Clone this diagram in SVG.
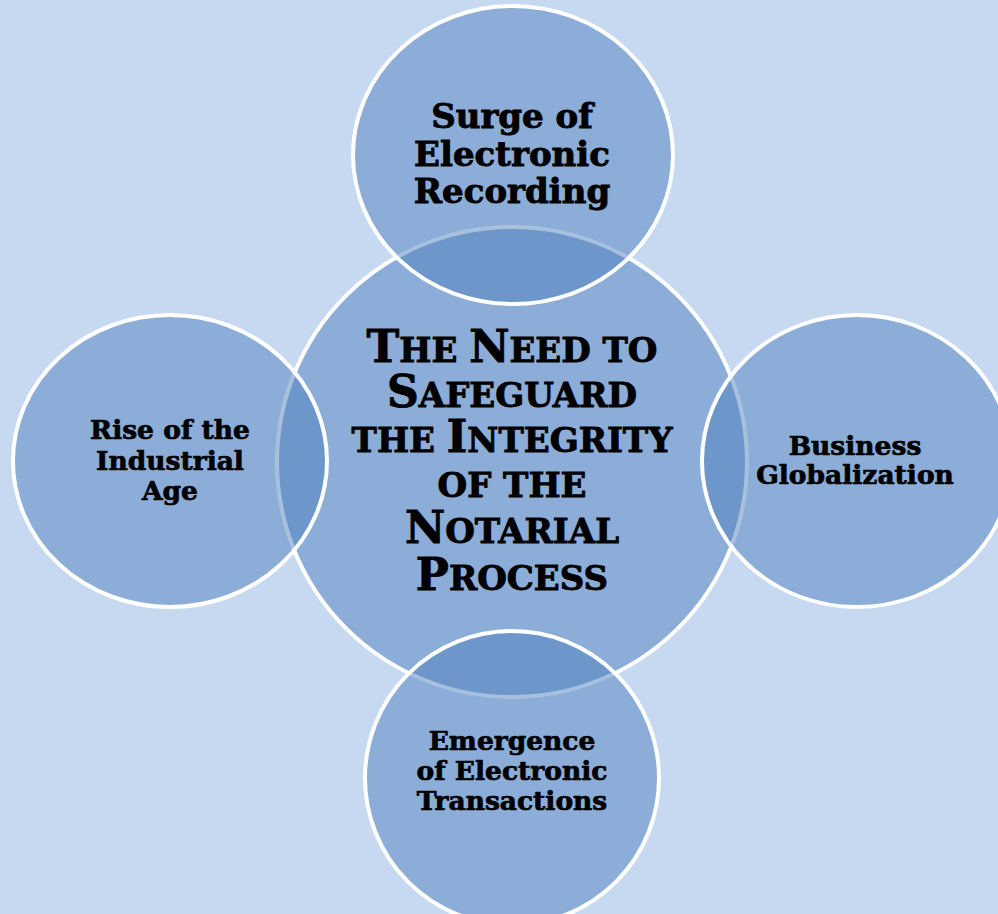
<svg xmlns="http://www.w3.org/2000/svg" width="998" height="914" viewBox="0 0 998 914">
<style>
.bub{fill:#4f81bd;fill-opacity:0.5;stroke:#ffffff;stroke-width:4}
.t{font-family:"DejaVu Serif","Liberation Serif",serif;font-weight:bold;fill:#000000;stroke:#000000;stroke-width:0.9;text-anchor:middle}
.big{font-size:34px}
.sm{font-size:26.5px;stroke-width:0.7}
.c{font-size:44px}
.s{font-size:34px}
</style>
<rect x="0" y="0" width="998" height="914" fill="#c6d9f0"/>
<g id="center">
<circle class="bub" cx="512" cy="462" r="235"/>
<text class="t c" x="512" y="362"><tspan>T</tspan><tspan class="s">HE </tspan><tspan>N</tspan><tspan class="s">EED TO</tspan></text>
<text class="t c" x="512" y="407"><tspan>S</tspan><tspan class="s">AFEGUARD</tspan></text>
<text class="t c" x="512" y="452"><tspan class="s">THE </tspan><tspan>I</tspan><tspan class="s">NTEGRITY</tspan></text>
<text class="t s" x="512" y="497">OF THE</text>
<text class="t c" x="512" y="543"><tspan>N</tspan><tspan class="s">OTARIAL</tspan></text>
<text class="t c" x="512" y="590"><tspan>P</tspan><tspan class="s">ROCESS</tspan></text>
</g>
<g id="top">
<ellipse class="bub" cx="513" cy="155" rx="160" ry="149"/>
<text class="t big" x="512" y="128">Surge of</text>
<text class="t big" x="512" y="166">Electronic</text>
<text class="t big" x="512" y="203">Recording</text>
</g>
<g id="left">
<ellipse class="bub" cx="170" cy="461" rx="157" ry="146"/>
<text class="t sm" x="170" y="439">Rise of the</text>
<text class="t sm" x="170" y="470">Industrial</text>
<text class="t sm" x="170" y="500">Age</text>
</g>
<g id="right">
<ellipse class="bub" cx="857" cy="461" rx="155" ry="146"/>
<text class="t sm" x="855" y="455">Business</text>
<text class="t sm" x="855" y="484">Globalization</text>
</g>
<g id="bottom">
<ellipse class="bub" cx="512" cy="778" rx="147" ry="147"/>
<text class="t sm" x="512" y="750">Emergence</text>
<text class="t sm" x="512" y="780">of Electronic</text>
<text class="t sm" x="512" y="810">Transactions</text>
</g>
<g id="connectors"/>
</svg>
